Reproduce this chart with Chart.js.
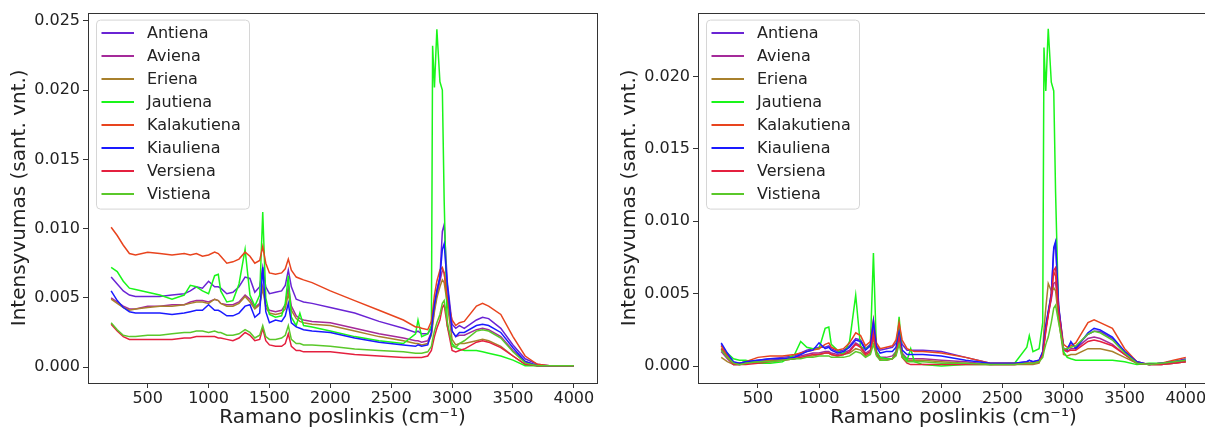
<!DOCTYPE html>
<html>
<head>
<meta charset="utf-8">
<script src="https://cdn.jsdelivr.net/npm/chart.js@4"></script>
<style>
  html, body { margin: 0; padding: 0; background: #fff; overflow: hidden; }
  .panel { position: absolute; top: 0; }
</style>
</head>
<body>
<div class="panel" style="left:0"><canvas id="raw-chart" width="605" height="430"></canvas></div>
<div class="panel" style="left:610px"><canvas id="corrected-chart" width="600" height="430"></canvas></div>
<script>
const meatNames = ['Antiena', 'Aviena', 'Eriena', 'Jautiena', 'Kalakutiena', 'Kiauliena', 'Versiena', 'Vistiena'];
const meatColors = ['#6a24d4', '#a52a9a', '#a8802c', '#1af51a', '#e8441e', '#1a1aff', '#e4203f', '#5ac82a'];

const ramanShift = [200, 250, 300, 350, 400, 500, 600, 700, 800, 850, 900, 950, 1000, 1050, 1080, 1100, 1150, 1200, 1250, 1300,
  1340, 1380, 1420, 1445, 1470, 1500, 1550, 1600, 1630, 1655, 1680, 1720, 1750, 1780, 1850, 2000, 2200, 2400, 2600, 2700,
  2720, 2750, 2800, 2830, 2840, 2855, 2875, 2900, 2920, 2935, 2960, 3000, 3030, 3060, 3100, 3200, 3250, 3300, 3400, 3500,
  3600, 3700, 3800, 3900, 4000];

const xTicks = [500, 1000, 1500, 2000, 2500, 3000, 3500, 4000];
const rawYTicks = [0, 0.005, 0.010, 0.015, 0.020, 0.025];
const corYTicks = [0, 0.005, 0.010, 0.015, 0.020];

// neapdoroti spektrai (kairė)
const rawAntiena = [.0065, .0060, .0055, .0052, .0051, .0051, .0051, .0052, .0053, .0055, .0058, .0057, .0062, .0058, .0058, .0057, .0053, .0054, .0058, .0065,
  .0064, .0054, .0058, .0072, .0058, .0053, .0054, .0055, .0059, .0070, .0058, .0049, .0048, .0047, .0046, .0043, .0039, .0033, .0028, .0025,
  .0026, .0024, .0024, .0028, .0035, .0045, .0055, .0065, .0098, .0103, .0062, .0031, .0028, .0030, .0028, .0034, .0036, .0035, .0028, .0016,
  .0006, .0002, .0001, .0001, .0001];
const rawAviena = [.0050, .0047, .0044, .0042, .0042, .0044, .0044, .0045, .0045, .0047, .0048, .0048, .0047, .0049, .0048, .0046, .0045, .0045, .0047, .0052,
  .0049, .0043, .0046, .0058, .0045, .0041, .0040, .0041, .0045, .0058, .0044, .0037, .0035, .0034, .0033, .0032, .0028, .0024, .0021, .0019,
  .0019, .0018, .0019, .0025, .0032, .0042, .0052, .0062, .0070, .0068, .0050, .0026, .0022, .0023, .0023, .0027, .0028, .0027, .0022, .0012,
  .0004, .0001, .0001, .0001, .0001];
const rawEriena = [.0049, .0046, .0043, .0041, .0042, .0043, .0044, .0044, .0045, .0046, .0047, .0047, .0046, .0049, .0048, .0046, .0044, .0044, .0046, .0051,
  .0047, .0042, .0045, .0057, .0043, .0039, .0038, .0039, .0042, .0053, .0041, .0035, .0033, .0032, .0031, .0030, .0026, .0022, .0019, .0017,
  .0017, .0016, .0017, .0023, .0030, .0040, .0050, .0058, .0063, .0061, .0046, .0020, .0016, .0017, .0017, .0019, .0020, .0019, .0015, .0008,
  .0002, .0001, .0001, .0001, .0001];
const rawJautiena = [.0072, .0069, .0062, .0057, .0056, .0054, .0052, .0049, .0052, .0059, .0058, .0055, .0053, .0066, .0067, .0055, .0047, .0048, .0060, .0085,
  .0052, .0044, .0052, .0112, .0050, .0038, .0036, .0037, .0046, .0066, .0036, .0030, .0039, .0030, .0029, .0026, .0022, .0019, .0017, .0024,
  .0034, .0022, .0024, .0030, .0232, .0202, .0244, .0206, .0200, .0120, .0030, .0017, .0014, .0013, .0012, .0012, .0011, .0010, .0008, .0005,
  .0001, .0001, .0001, .0001, .0001];
const rawKalakutiena = [.0101, .0095, .0088, .0082, .0081, .0083, .0082, .0081, .0082, .0081, .0082, .0080, .0081, .0083, .0082, .0080, .0075, .0076, .0078, .0083,
  .0080, .0075, .0077, .0087, .0075, .0068, .0067, .0068, .0071, .0078, .0070, .0065, .0064, .0063, .0061, .0055, .0048, .0041, .0034, .0029,
  .0029, .0028, .0027, .0033, .0040, .0052, .0062, .0070, .0072, .0068, .0050, .0034, .0030, .0032, .0033, .0044, .0046, .0044, .0038, .0022,
  .0008, .0002, .0001, .0001, .0001];
const rawKiauliena = [.0055, .0048, .0043, .0040, .0039, .0039, .0039, .0038, .0039, .0040, .0041, .0041, .0045, .0041, .0041, .0040, .0037, .0037, .0039, .0044,
  .0045, .0036, .0039, .0072, .0040, .0032, .0034, .0033, .0037, .0046, .0032, .0029, .0028, .0027, .0026, .0025, .0021, .0018, .0016, .0015,
  .0016, .0015, .0016, .0025, .0035, .0045, .0055, .0065, .0085, .0089, .0060, .0026, .0022, .0025, .0025, .0030, .0031, .0030, .0025, .0014,
  .0004, .0001, .0001, .0001, .0001];
const rawVersiena = [.0031, .0026, .0022, .0020, .0020, .0020, .0020, .0020, .0021, .0021, .0022, .0022, .0022, .0022, .0021, .0021, .0020, .0019, .0021, .0025,
  .0023, .0019, .0020, .0028, .0019, .0016, .0015, .0015, .0017, .0024, .0015, .0012, .0012, .0011, .0011, .0011, .0009, .0008, .0007, .0007,
  .0007, .0007, .0008, .0012, .0016, .0022, .0028, .0034, .0043, .0045, .0030, .0012, .0011, .0012, .0013, .0018, .0019, .0018, .0014, .0008,
  .0002, .0001, .0001, .0001, .0001];
const rawVistiena = [.0032, .0027, .0023, .0022, .0022, .0023, .0023, .0024, .0025, .0025, .0026, .0026, .0025, .0026, .0025, .0025, .0023, .0023, .0024, .0027,
  .0025, .0021, .0023, .0030, .0022, .0020, .0020, .0021, .0023, .0030, .0020, .0017, .0017, .0016, .0016, .0015, .0013, .0012, .0011, .0010,
  .0010, .0010, .0011, .0015, .0020, .0026, .0032, .0038, .0046, .0048, .0033, .0015, .0014, .0017, .0019, .0026, .0027, .0026, .0021, .0011,
  .0003, .0001, .0001, .0001, .0001];

// pataisyti spektrai (dešinė)
const corAntiena = [.0015, .0008, .0002, .0002, .0003, .0004, .0005, .0006, .0007, .0009, .0011, .0012, .0013, .0013, .0014, .0012, .0010, .0011, .0014, .0019,
  .0018, .0012, .0015, .0029, .0014, .0011, .0012, .0013, .0016, .0027, .0015, .0011, .0011, .0011, .0011, .0010, .0006, .0002, .0002, .0003,
  .0004, .0003, .0004, .0009, .0017, .0027, .0037, .0048, .0080, .0085, .0040, .0012, .0012, .0016, .0013, .0022, .0024, .0024, .0019, .0010,
  .0003, .0001, .0002, .0003, .0005];
const corAviena = [.0010, .0005, .0001, .0001, .0002, .0003, .0004, .0005, .0006, .0007, .0008, .0009, .0009, .0010, .0010, .0009, .0008, .0009, .0011, .0016,
  .0014, .0009, .0011, .0025, .0010, .0006, .0006, .0007, .0010, .0024, .0009, .0005, .0005, .0005, .0005, .0004, .0003, .0001, .0001, .0002,
  .0002, .0002, .0003, .0008, .0015, .0025, .0036, .0046, .0057, .0058, .0036, .0011, .0010, .0012, .0012, .0019, .0020, .0019, .0015, .0008,
  .0002, .0001, .0001, .0002, .0003];
const corEriena = [.0006, .0003, .0001, .0001, .0002, .0003, .0004, .0004, .0005, .0006, .0007, .0007, .0008, .0009, .0009, .0008, .0007, .0008, .0009, .0012,
  .0011, .0007, .0009, .0020, .0008, .0005, .0005, .0005, .0008, .0018, .0007, .0004, .0004, .0004, .0004, .0003, .0002, .0001, .0001, .0001,
  .0001, .0001, .0002, .0010, .0025, .0040, .0057, .0052, .0054, .0052, .0032, .0008, .0007, .0008, .0008, .0012, .0012, .0012, .0010, .0006,
  .0002, .0001, .0001, .0002, .0003];
const corJautiena = [.0012, .0009, .0005, .0004, .0004, .0002, .0002, .0003, .0008, .0017, .0013, .0012, .0012, .0026, .0027, .0015, .0011, .0008, .0017, .0049,
  .0013, .0012, .0014, .0078, .0010, .0006, .0005, .0005, .0010, .0034, .0008, .0004, .0012, .0003, .0001, .0000, .0001, .0001, .0002, .0013,
  .0021, .0010, .0012, .0030, .0220, .0190, .0233, .0196, .0190, .0120, .0035, .0010, .0006, .0005, .0004, .0004, .0004, .0004, .0004, .0003,
  .0001, .0002, .0002, .0003, .0004];
const corKalakutiena = [.0014, .0007, .0002, .0002, .0003, .0006, .0007, .0007, .0008, .0009, .0010, .0011, .0012, .0015, .0016, .0013, .0011, .0012, .0016, .0023,
  .0021, .0014, .0017, .0032, .0016, .0012, .0013, .0014, .0018, .0030, .0018, .0012, .0011, .0010, .0010, .0009, .0006, .0002, .0002, .0002,
  .0002, .0002, .0003, .0008, .0015, .0026, .0036, .0050, .0065, .0062, .0040, .0015, .0013, .0014, .0016, .0030, .0032, .0030, .0026, .0012,
  .0003, .0001, .0002, .0004, .0006];
const corKiauliena = [.0016, .0009, .0003, .0002, .0003, .0004, .0005, .0005, .0006, .0008, .0010, .0011, .0016, .0012, .0013, .0011, .0009, .0010, .0013, .0018,
  .0017, .0011, .0014, .0031, .0013, .0009, .0010, .0010, .0013, .0023, .0011, .0008, .0008, .0008, .0008, .0007, .0004, .0002, .0002, .0003,
  .0004, .0003, .0004, .0010, .0018, .0028, .0038, .0050, .0082, .0086, .0042, .0012, .0011, .0017, .0012, .0023, .0026, .0025, .0020, .0010,
  .0003, .0001, .0002, .0003, .0004];
const corVersiena = [.0012, .0006, .0001, .0001, .0001, .0002, .0003, .0004, .0005, .0006, .0007, .0008, .0008, .0009, .0009, .0008, .0007, .0008, .0010, .0015,
  .0013, .0008, .0010, .0022, .0008, .0004, .0004, .0005, .0008, .0020, .0006, .0002, .0001, .0001, .0001, .0001, .0001, .0001, .0001, .0002,
  .0002, .0002, .0003, .0008, .0014, .0024, .0035, .0048, .0066, .0068, .0038, .0012, .0010, .0011, .0011, .0017, .0018, .0017, .0014, .0008,
  .0002, .0001, .0001, .0002, .0003];
const corVistiena = [.0011, .0006, .0002, .0001, .0002, .0003, .0003, .0004, .0005, .0005, .0006, .0006, .0007, .0007, .0007, .0006, .0006, .0006, .0007, .0010,
  .0009, .0006, .0008, .0015, .0007, .0004, .0004, .0005, .0007, .0015, .0006, .0003, .0003, .0003, .0003, .0002, .0002, .0001, .0001, .0002,
  .0002, .0002, .0003, .0006, .0010, .0015, .0020, .0030, .0040, .0042, .0030, .0012, .0012, .0013, .0014, .0022, .0024, .0023, .0018, .0009,
  .0002, .0001, .0002, .0003, .0004];

const rawSeries = [rawAntiena, rawAviena, rawEriena, rawJautiena, rawKalakutiena, rawKiauliena, rawVersiena, rawVistiena];
const corSeries = [corAntiena, corAviena, corEriena, corJautiena, corKalakutiena, corKiauliena, corVersiena, corVistiena];

Chart.defaults.font.family = "'DejaVu Sans', sans-serif";
Chart.defaults.color = '#222';

// rėmelis ir legenda kaip matplotlib
const framePlugin = {
    id: 'frameAndLegend',
    afterDatasetsDraw(chart) {
        const { ctx, chartArea: a } = chart;
        ctx.save();
        ctx.strokeStyle = '#333';
        ctx.lineWidth = 1;
        ctx.strokeRect(Math.round(a.left) + 0.5, Math.round(a.top) + 0.5, Math.round(a.right - a.left), Math.round(a.bottom - a.top));

        const bx = a.left + 8.5, by = a.top + 7.5;
        ctx.beginPath();
        ctx.roundRect(bx, by, 153, 189, 4);
        ctx.fillStyle = 'rgba(255,255,255,0.8)';
        ctx.fill();
        ctx.strokeStyle = '#d6d6d6';
        ctx.stroke();

        ctx.font = "16px 'DejaVu Sans'";
        ctx.textBaseline = 'middle';
        meatNames.forEach((name, i) => {
            const y = a.top + 20.5 + i * 23;
            ctx.beginPath();
            ctx.moveTo(a.left + 13.5, y);
            ctx.lineTo(a.left + 46, y);
            ctx.strokeStyle = meatColors[i];
            ctx.lineWidth = 2;
            ctx.stroke();
            ctx.fillStyle = '#222';
            ctx.fillText(name, a.left + 59, y + 1);
        });
        ctx.restore();
    }
};

function renderSpectraChart(canvasId, series, yMin, yMax, yTicks, rightPad) {
    const ctx = document.getElementById(canvasId).getContext('2d');
    const datasets = series.map((vals, i) => ({
        label: meatNames[i],
        data: ramanShift.map((x, k) => ({ x: x, y: vals[k] })),
        borderColor: meatColors[i],
        borderWidth: 1.5,
        pointRadius: 0,
        tension: 0,
        order: series.length - 1 - i
    }));

    new Chart(ctx, {
        type: 'line',
        data: { datasets },
        options: {
            responsive: false,
            animation: false,
            events: [],
            layout: { padding: { top: 12, right: rightPad, left: 0, bottom: 0 } },
            plugins: { legend: { display: false }, tooltip: { enabled: false } },
            scales: {
                x: {
                    type: 'linear',
                    min: 10,
                    max: 4190,
                    afterBuildTicks: scale => { scale.ticks = xTicks.map(v => ({ value: v })); },
                    afterFit: scale => { scale.height = 47; },
                    ticks: { font: { size: 16 }, padding: 1, maxRotation: 0, callback: v => String(v) },
                    grid: { drawOnChartArea: false, drawTicks: true, tickLength: 5, tickColor: '#333' },
                    border: { display: false },
                    title: { display: true, text: 'Ramano poslinkis (cm⁻¹)', font: { size: 20 }, padding: { top: 0, bottom: 0 } }
                },
                y: {
                    type: 'linear',
                    min: yMin,
                    max: yMax,
                    afterBuildTicks: scale => { scale.ticks = yTicks.map(v => ({ value: v })); },
                    afterFit: scale => { scale.width = 88; },
                    ticks: { font: { size: 16 }, padding: 3, callback: v => v.toFixed(3) },
                    grid: { drawOnChartArea: false, drawTicks: true, tickLength: 5, tickColor: '#333' },
                    border: { display: false },
                    title: { display: true, text: 'Intensyvumas (sant. vnt.)', font: { size: 20 }, padding: { top: 8, bottom: 0 } }
                }
            }
        },
        plugins: [framePlugin]
    });
}

renderSpectraChart('raw-chart', rawSeries, -0.00115, 0.0256, rawYTicks, 8);
renderSpectraChart('corrected-chart', corSeries, -0.00117, 0.02441, corYTicks, 1);
</script>
</body>
</html>
